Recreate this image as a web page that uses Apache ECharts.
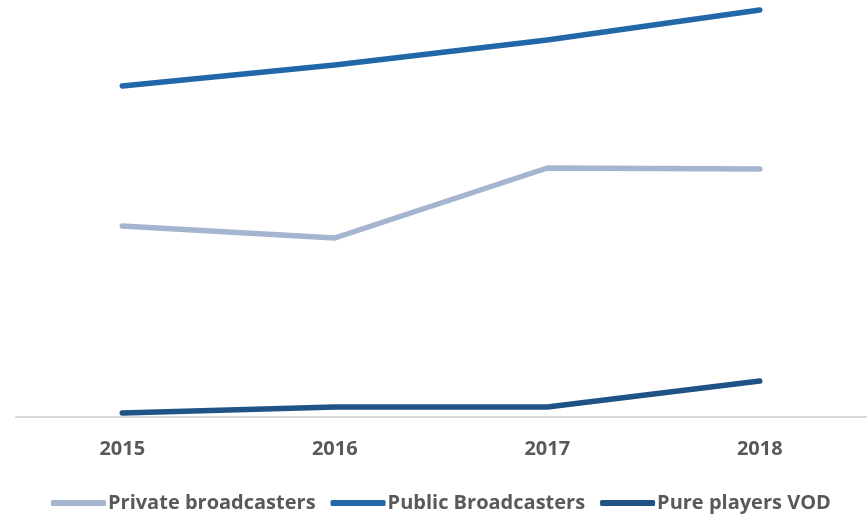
<!DOCTYPE html>
<html>
<head>
<meta charset="utf-8">
<script src="https://cdn.jsdelivr.net/npm/echarts@6/dist/echarts.min.js"></script>
<style>
  html, body { margin: 0; padding: 0; background: #fff; }
  #chart { width: 867px; height: 514px; }
</style>
</head>
<body>
<div id="chart"></div>
<script>
"use strict"

// values (no axis labels in the source, arbitrary units)
const years = ["2015", "2016", "2017", "2018"];
const privateVals = [19.1, 17.9, 24.9, 24.8];
const publicVals = [33.1, 35.2, 37.7, 40.7];
const pureVals = [0.4, 1.0, 1.0, 3.6];

const textColor = "#595959";
const font = "'Open Sans', 'Liberation Sans', sans-serif";

const lineSeries = (name, data, color) => ({
    name: name,
    type: "line",
    data: data,
    symbol: "none",
    color: color,
    lineStyle: { width: 5.5, color: color, cap: "round", join: "round" },
    animation: false
});

const myChart = echarts.init(document.getElementById("chart"), null, { renderer: "canvas" });
myChart.setOption({
    backgroundColor: "#fff",
    grid: { left: 16, right: 1, top: 7, bottom: 97, containLabel: false },
    xAxis: {
        type: "category",
        data: years,
        boundaryGap: true,
        axisLine: { lineStyle: { color: "#d9d9d9", width: 2 } },
        axisTick: { show: false },
        axisLabel: { color: textColor, fontFamily: font, fontWeight: "bold", fontSize: 20, margin: 22 }
    },
    yAxis: {
        type: "value",
        min: 0,
        max: 41,
        show: false,
        splitLine: { show: false }
    },
    legend: {
        top: 488,
        left: 46,
        icon: "roundRect",
        itemWidth: 55,
        itemHeight: 6,
        itemGap: 15,
        textStyle: { color: textColor, fontFamily: font, fontWeight: "bold", fontSize: 20, padding: [0, 0, 0, -3] },
        data: ["Private broadcasters", "Public Broadcasters", "Pure players VOD"]
    },
    series: [
        lineSeries("Private broadcasters", privateVals, "#a5b4cf"),
        lineSeries("Public Broadcasters", publicVals, "#2267a8"),
        lineSeries("Pure players VOD", pureVals, "#1f5386")
    ]
});
</script>
</body>
</html>
